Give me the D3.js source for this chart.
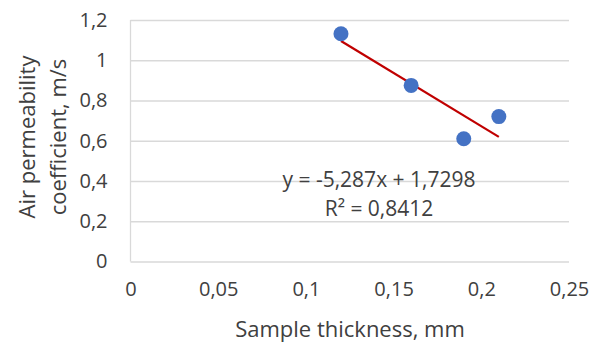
<!DOCTYPE html>
<html>
<head>
<meta charset="utf-8">
<script src="https://cdn.jsdelivr.net/npm/d3@7"></script>
<style>
  body { margin: 0; background: #fff; }
  text { font-family: "Open Sans", sans-serif; fill: #404040; }
</style>
</head>
<body>
<div id="chart"></div>
<script>
// measured points
var thickness = [0.12, 0.16, 0.19, 0.21];
var permeability = [1.132, 0.875, 0.61, 0.72];
var xTicks = [0, 0.05, 0.1, 0.15, 0.2, 0.25];
var yTicks = [0, 0.2, 0.4, 0.6, 0.8, 1, 1.2];
// linear trend from the chart label
var trendSlope = -5.287;
var trendIntercept = 1.7298;
var trendLabel = ["y = -5,287x + 1,7298", "R² = 0,8412"];

var width = 592, height = 344;
var plotLeft = 130.5, plotRight = 569, plotTop = 20, plotBottom = 261.5;

var svg = d3.select("#chart")
  .append("svg")
  .attr("width", width)
  .attr("height", height);

var x = d3.scaleLinear().domain([0, 0.25]).range([plotLeft, plotRight]);
var y = d3.scaleLinear().domain([0, 1.2]).range([plotBottom, plotTop]);

var comma = function (d) { return String(d).replace(".", ","); };

// gridlines
svg.append("g")
  .attr("transform", "translate(" + plotLeft + ",0)")
  .call(d3.axisLeft(y).tickValues(yTicks).tickSize(-(plotRight - plotLeft)).tickFormat(""))
  .call(function (g) {
    g.select(".domain").remove();
    g.selectAll("line").attr("stroke", "#d9d9d9").attr("stroke-width", 1.3);
  });

// left axis line
svg.append("line")
  .attr("x1", plotLeft).attr("x2", plotLeft)
  .attr("y1", plotTop).attr("y2", plotBottom)
  .attr("stroke", "#d9d9d9").attr("stroke-width", 1.3);

// y tick labels
svg.append("g")
  .attr("transform", "translate(" + plotLeft + ",0)")
  .call(d3.axisLeft(y).tickValues(yTicks).tickSize(0).tickPadding(23).tickFormat(comma))
  .call(function (g) {
    g.select(".domain").remove();
    g.selectAll("text").style("font-size", "20px").attr("fill", "#404040");
  });

// x tick labels
svg.append("g")
  .attr("transform", "translate(0," + plotBottom + ")")
  .call(d3.axisBottom(x).tickValues(xTicks).tickSize(0).tickPadding(20).tickFormat(comma))
  .call(function (g) {
    g.select(".domain").remove();
    g.selectAll("text").style("font-size", "20px").attr("fill", "#404040");
  });

// trendline
var x0 = d3.min(thickness), x1 = d3.max(thickness);
svg.append("line")
  .attr("x1", x(x0)).attr("y1", y(trendSlope * x0 + trendIntercept))
  .attr("x2", x(x1)).attr("y2", y(trendSlope * x1 + trendIntercept))
  .attr("stroke", "#c00000").attr("stroke-width", 2.2);

// points
svg.selectAll(".pt")
  .data(thickness)
  .enter()
  .append("circle")
  .classed("pt", true)
  .attr("cx", function (d) { return x(d); })
  .attr("cy", function (d, i) { return y(permeability[i]); })
  .attr("r", 7.5)
  .attr("fill", "#4472c4");

// equation label
svg.append("text")
  .attr("text-anchor", "middle")
  .style("font-size", "21px")
  .selectAll("tspan")
  .data(trendLabel)
  .enter()
  .append("tspan")
  .attr("x", 379)
  .attr("y", function (d, i) { return 187 + i * 29; })
  .text(function (d) { return d; });

// axis titles
svg.append("text")
  .attr("text-anchor", "middle")
  .attr("x", 350)
  .attr("y", 337)
  .style("font-size", "22px")
  .text("Sample thickness, mm");

var yt = svg.append("text")
  .attr("text-anchor", "middle")
  .attr("transform", "translate(0,137) rotate(-90)")
  .style("font-size", "22px");
yt.append("tspan").attr("x", 0).attr("y", 35).text("Air permeability");
yt.append("tspan").attr("x", 0).attr("y", 66).text("coefficient, m/s");
</script>
</body>
</html>
